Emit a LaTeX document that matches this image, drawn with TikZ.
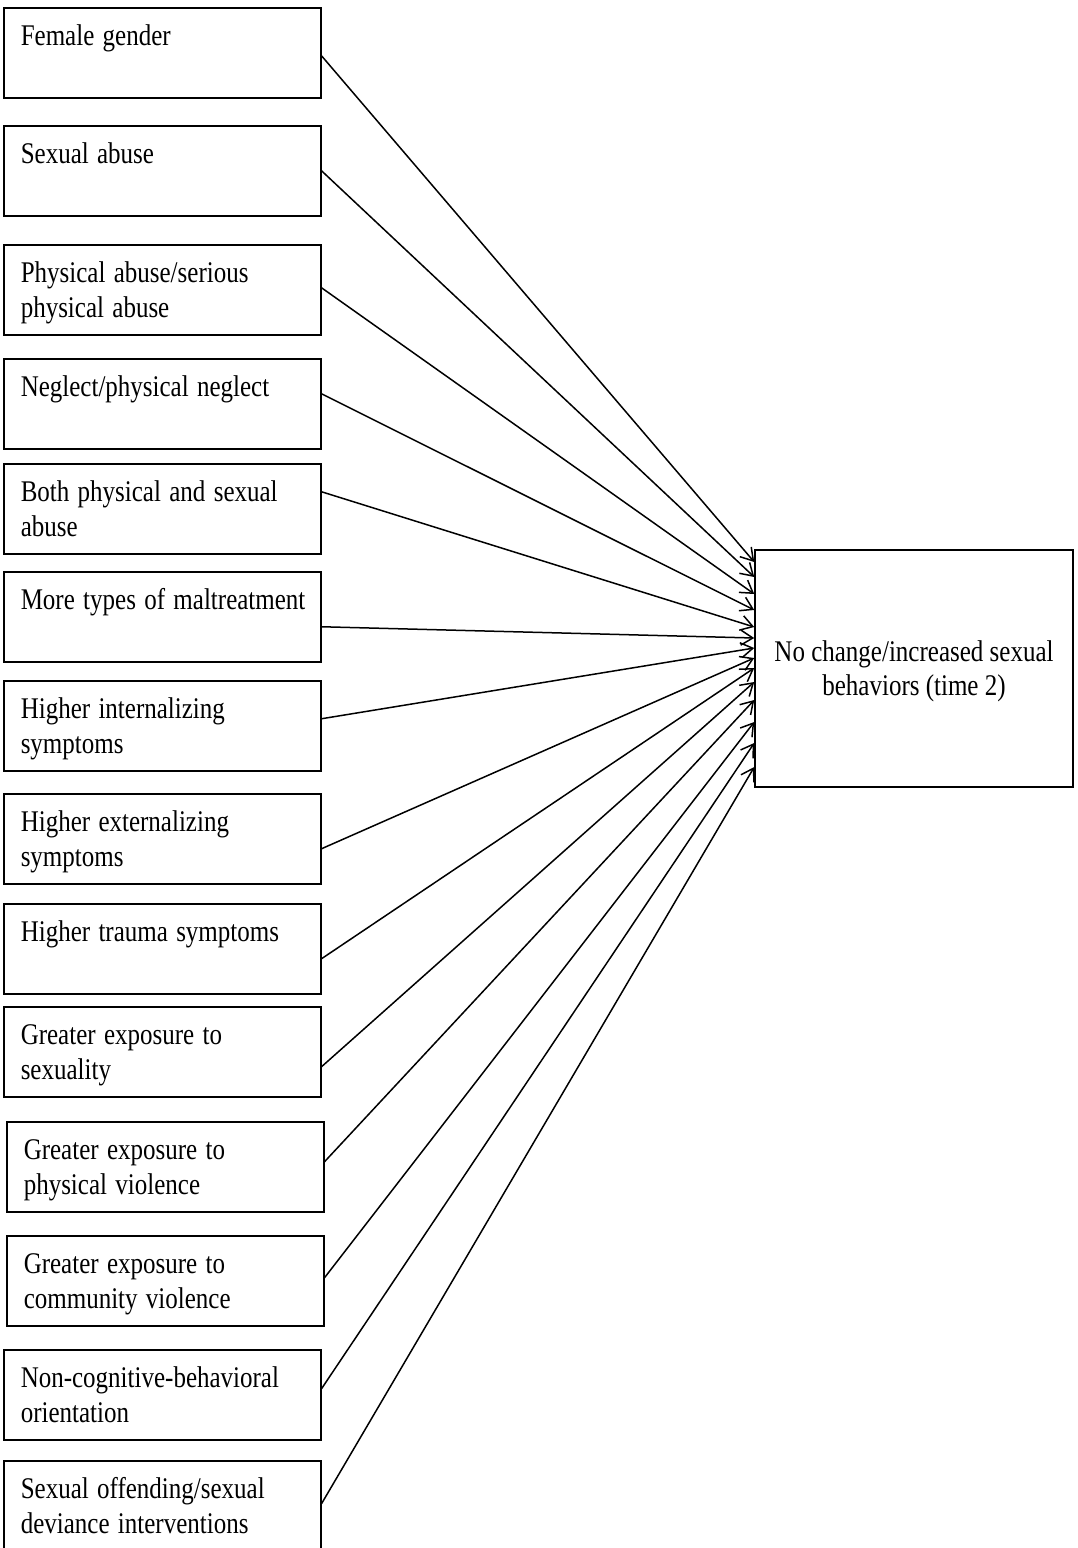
\documentclass[tikz,border=0pt]{standalone}
\usepackage{fontspec}
\setmainfont{Liberation Serif}
\usepackage{graphicx}
\usetikzlibrary{arrows.meta}
\newcommand{\boxtext}[2][l]{\raisebox{-3pt}[\height][\depth]{\scalebox{1}[1.2]{\begin{tabular}{@{}#1@{}}#2\end{tabular}}}}

\begin{document}
\begin{tikzpicture}[x=1pt, y=-1pt, line width=1.5pt,
		>={Straight Barb[length=12pt, width=15pt, line width=1.5pt]},
		font=\fontsize{25}{29}\selectfont,
		factor/.style={draw, anchor=north west, minimum width=317pt, minimum height=90pt, text width=283pt, inner xsep=17pt, inner ysep=0pt, align=left},
		outcome/.style={draw, minimum width=318pt, minimum height=237pt, align=center}]
	\useasboundingbox (0,0) rectangle (1078,1548);
	\node[factor] (f1) at (3,7) {\boxtext{Female gender\\ {}}};
	\node[factor] (f2) at (3,125) {\boxtext{Sexual abuse\\ {}}};
	\node[factor] (f3) at (3,244) {\boxtext{Physical abuse/serious\\physical abuse}};
	\node[factor] (f4) at (3,358) {\boxtext{Neglect/physical neglect\\ {}}};
	\node[factor] (f5) at (3,463) {\boxtext{Both physical and sexual\\abuse}};
	\node[factor] (f6) at (3,571) {\boxtext{More types of maltreatment\\ {}}};
	\node[factor] (f7) at (3,680) {\boxtext{Higher internalizing\\symptoms}};
	\node[factor] (f8) at (3,793) {\boxtext{Higher externalizing\\symptoms}};
	\node[factor] (f9) at (3,903) {\boxtext{Higher trauma symptoms\\ {}}};
	\node[factor] (f10) at (3,1006) {\boxtext{Greater exposure to\\sexuality}};
	\node[factor] (f11) at (6,1121) {\boxtext{Greater exposure to\\physical violence}};
	\node[factor] (f12) at (6,1235) {\boxtext{Greater exposure to\\community violence}};
	\node[factor] (f13) at (3,1349) {\boxtext{Non-cognitive-behavioral\\orientation}};
	\node[factor] (f14) at (3,1460) {\boxtext{Sexual offending/sexual\\deviance interventions}};
	\node[outcome] (out) at (914,668.5) {\boxtext[c]{No change/increased sexual\\behaviors (time 2)}};

	\draw[->] ([yshift=-3pt]f1.east) -- ([yshift=106.5pt]out.west);
	\draw[->] (f2.east) -- ([yshift=91.5pt]out.west);
	\draw[->] ([yshift=2pt]f3.east) -- ([yshift=74.5pt]out.west);
	\draw[->] ([yshift=10pt]f4.east) -- ([yshift=58.5pt]out.west);
	\draw[->] ([yshift=17pt]f5.east) -- ([yshift=41.5pt]out.west);
	\draw[->] ([yshift=-10pt]f6.east) -- ([yshift=30.5pt]out.west);
	\draw[->] ([yshift=7pt]f7.east) -- ([yshift=20.5pt]out.west);
	\draw[->] ([yshift=-10pt]f8.east) -- ([yshift=10.5pt]out.west);
	\draw[->] ([yshift=-10pt]f9.east) -- ([yshift=0.5pt]out.west);
	\draw[->] ([yshift=-15pt]f10.east) -- ([yshift=-13.5pt]out.west);
	\draw[->] ([yshift=5pt]f11.east) -- ([yshift=-31.5pt]out.west);
	\draw[->] ([yshift=3pt]f12.east) -- ([yshift=-53.5pt]out.west);
	\draw[->] ([yshift=6pt]f13.east) -- ([yshift=-74.5pt]out.west);
	\draw[->] ([yshift=2pt]f14.east) -- ([yshift=-98.5pt]out.west);
\end{tikzpicture}
\end{document}
